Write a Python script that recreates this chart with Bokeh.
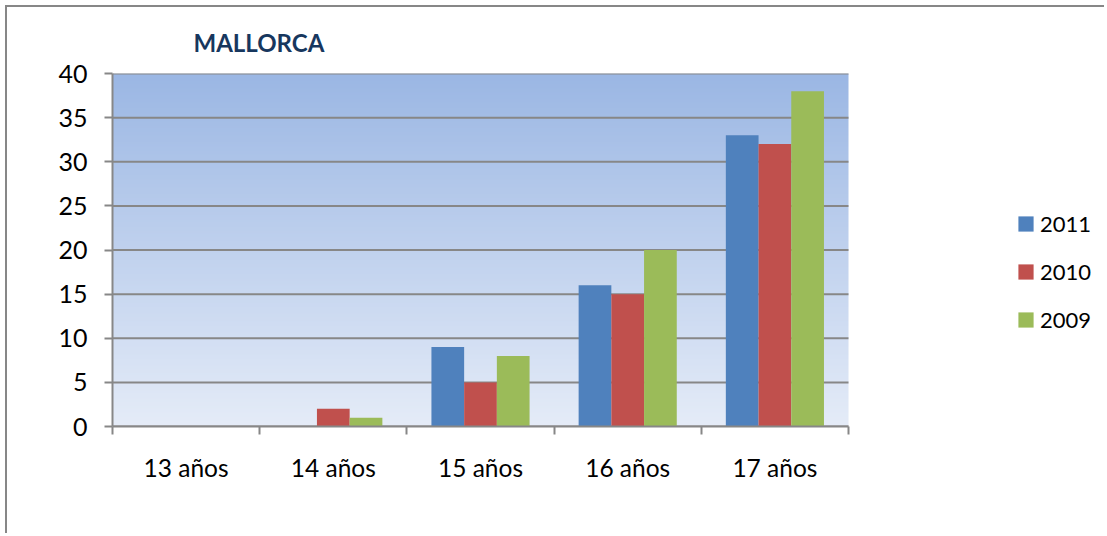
import numpy as np
from bokeh.plotting import figure
from bokeh.models import FixedTicker, Range1d, Legend, LegendItem
from bokeh.embed import file_html
from bokeh.resources import INLINE

categories = ["13 años", "14 años", "15 años", "16 años", "17 años"]
series_names = ["2011", "2010", "2009"]
values_2011 = [0, 0, 9, 16, 33]
values_2010 = [0, 2, 5, 15, 32]
values_2009 = [0, 1, 8, 20, 38]
y_ticks = [0, 5, 10, 15, 20, 25, 30, 35, 40]
colors = ["#4F81BD", "#C0504D", "#9BBB59"]

FONT = "Lato"
GRAY = "#878787"

W, H = 1099, 528
LEFT, TOP, BOTTOM = 105, 66, 109
FRAME_W = W - LEFT          # frame extends to the right edge (legend lives inside)
PLOT_W = 736                # width of the category area in pixels
n = len(categories)
x_max = n * FRAME_W / PLOT_W
y_max = y_ticks[-1]

p = figure(width=W, height=H, output_backend="svg", toolbar_location=None,
           x_range=Range1d(0, x_max), y_range=Range1d(0, y_max),
           min_border_left=LEFT, min_border_right=0, min_border_top=TOP, min_border_bottom=BOTTOM)
p.outline_line_color = None
p.background_fill_color = None
p.styles = {"margin-left": "5px", "margin-top": "5px",
            "border-top": "2px solid #878787", "border-left": "2px solid #878787"}

# gradient background of the category area
N = 256
top = np.array([155, 183, 228], dtype=float)
bot = np.array([229, 236, 248], dtype=float)
img = np.zeros((N, 2), dtype=np.uint32)
view = img.view(dtype=np.uint8).reshape((N, 2, 4))
for i in range(N):
    t = i / (N - 1)
    c = bot + (top - bot) * t
    view[i, :, 0] = int(c[0]); view[i, :, 1] = int(c[1]); view[i, :, 2] = int(c[2]); view[i, :, 3] = 255
bg = p.image_rgba(image=[img], x=0, y=0, dw=n, dh=y_max)
bg.level = "image"

# horizontal grid lines limited to the category area
gl = p.segment(x0=[0] * len(y_ticks), x1=[n] * len(y_ticks), y0=y_ticks, y1=y_ticks,
               line_color=GRAY, line_width=2)
gl.level = "underlay"

# bars
bw = 1 / 4.5
all_vals = [values_2011, values_2010, values_2009]
items = []
for k, (name, vals) in enumerate(zip(series_names, all_vals)):
    xs = [i + 0.5 + (k - 1) * bw for i in range(n)]
    r = p.vbar(x=xs, top=vals, bottom=0, width=bw, fill_color=colors[k], line_color=None)
    items.append(LegendItem(label=name, renderers=[r]))

# axes
p.xaxis.bounds = (0, n)
p.xaxis.ticker = FixedTicker(ticks=[i + 0.5 for i in range(n)],
                             minor_ticks=list(range(n + 1)))
p.xaxis.major_label_overrides = {i + 0.5: c for i, c in enumerate(categories)}
p.xaxis.major_tick_line_color = None
p.xaxis.major_tick_out = 0
p.xaxis.major_tick_in = 0
p.xaxis.minor_tick_out = 8
p.xaxis.minor_tick_in = 0
p.xaxis.minor_tick_line_color = GRAY
p.xaxis.minor_tick_line_width = 2
p.xaxis.major_label_standoff = 18
p.xaxis.major_label_text_font = FONT
p.xaxis.major_label_text_font_size = "24.5px"
p.xaxis.major_label_text_color = "#000000"

p.yaxis.ticker = FixedTicker(ticks=y_ticks, minor_ticks=[])
p.yaxis.major_tick_out = 8
p.yaxis.major_tick_in = 0
p.yaxis.major_tick_line_color = GRAY
p.yaxis.major_tick_line_width = 2
p.yaxis.major_label_standoff = 17
p.yaxis.major_label_text_font = FONT
p.yaxis.major_label_text_font_size = "25px"
p.yaxis.major_label_text_color = "#000000"

for ax in (p.xaxis, p.yaxis):
    ax.axis_line_color = GRAY
    ax.axis_line_width = 2

p.xgrid.grid_line_color = None
p.ygrid.grid_line_color = None

# title
p.title.text = "MALLORCA"
p.title.align = "left"
p.title.vertical_align = "top"
p.title.offset = 81
p.title.standoff = 30
p.title.text_font = FONT
p.title.text_font_style = "bold"
p.title.text_font_size = "24px"
p.title.text_color = "#17375E"

# legend
lg = Legend(items=items, location=(904, 93))
lg.border_line_color = None
lg.background_fill_color = None
lg.padding = 0
lg.margin = 0
lg.glyph_width = 19
lg.glyph_height = 19
lg.label_height = 26
lg.spacing = 21
lg.label_standoff = 5
lg.label_text_font = FONT
lg.label_text_font_size = "22px"
lg.label_text_color = "#000000"
p.add_layout(lg, "center")

open("out.html", "w").write(file_html(p, INLINE))
